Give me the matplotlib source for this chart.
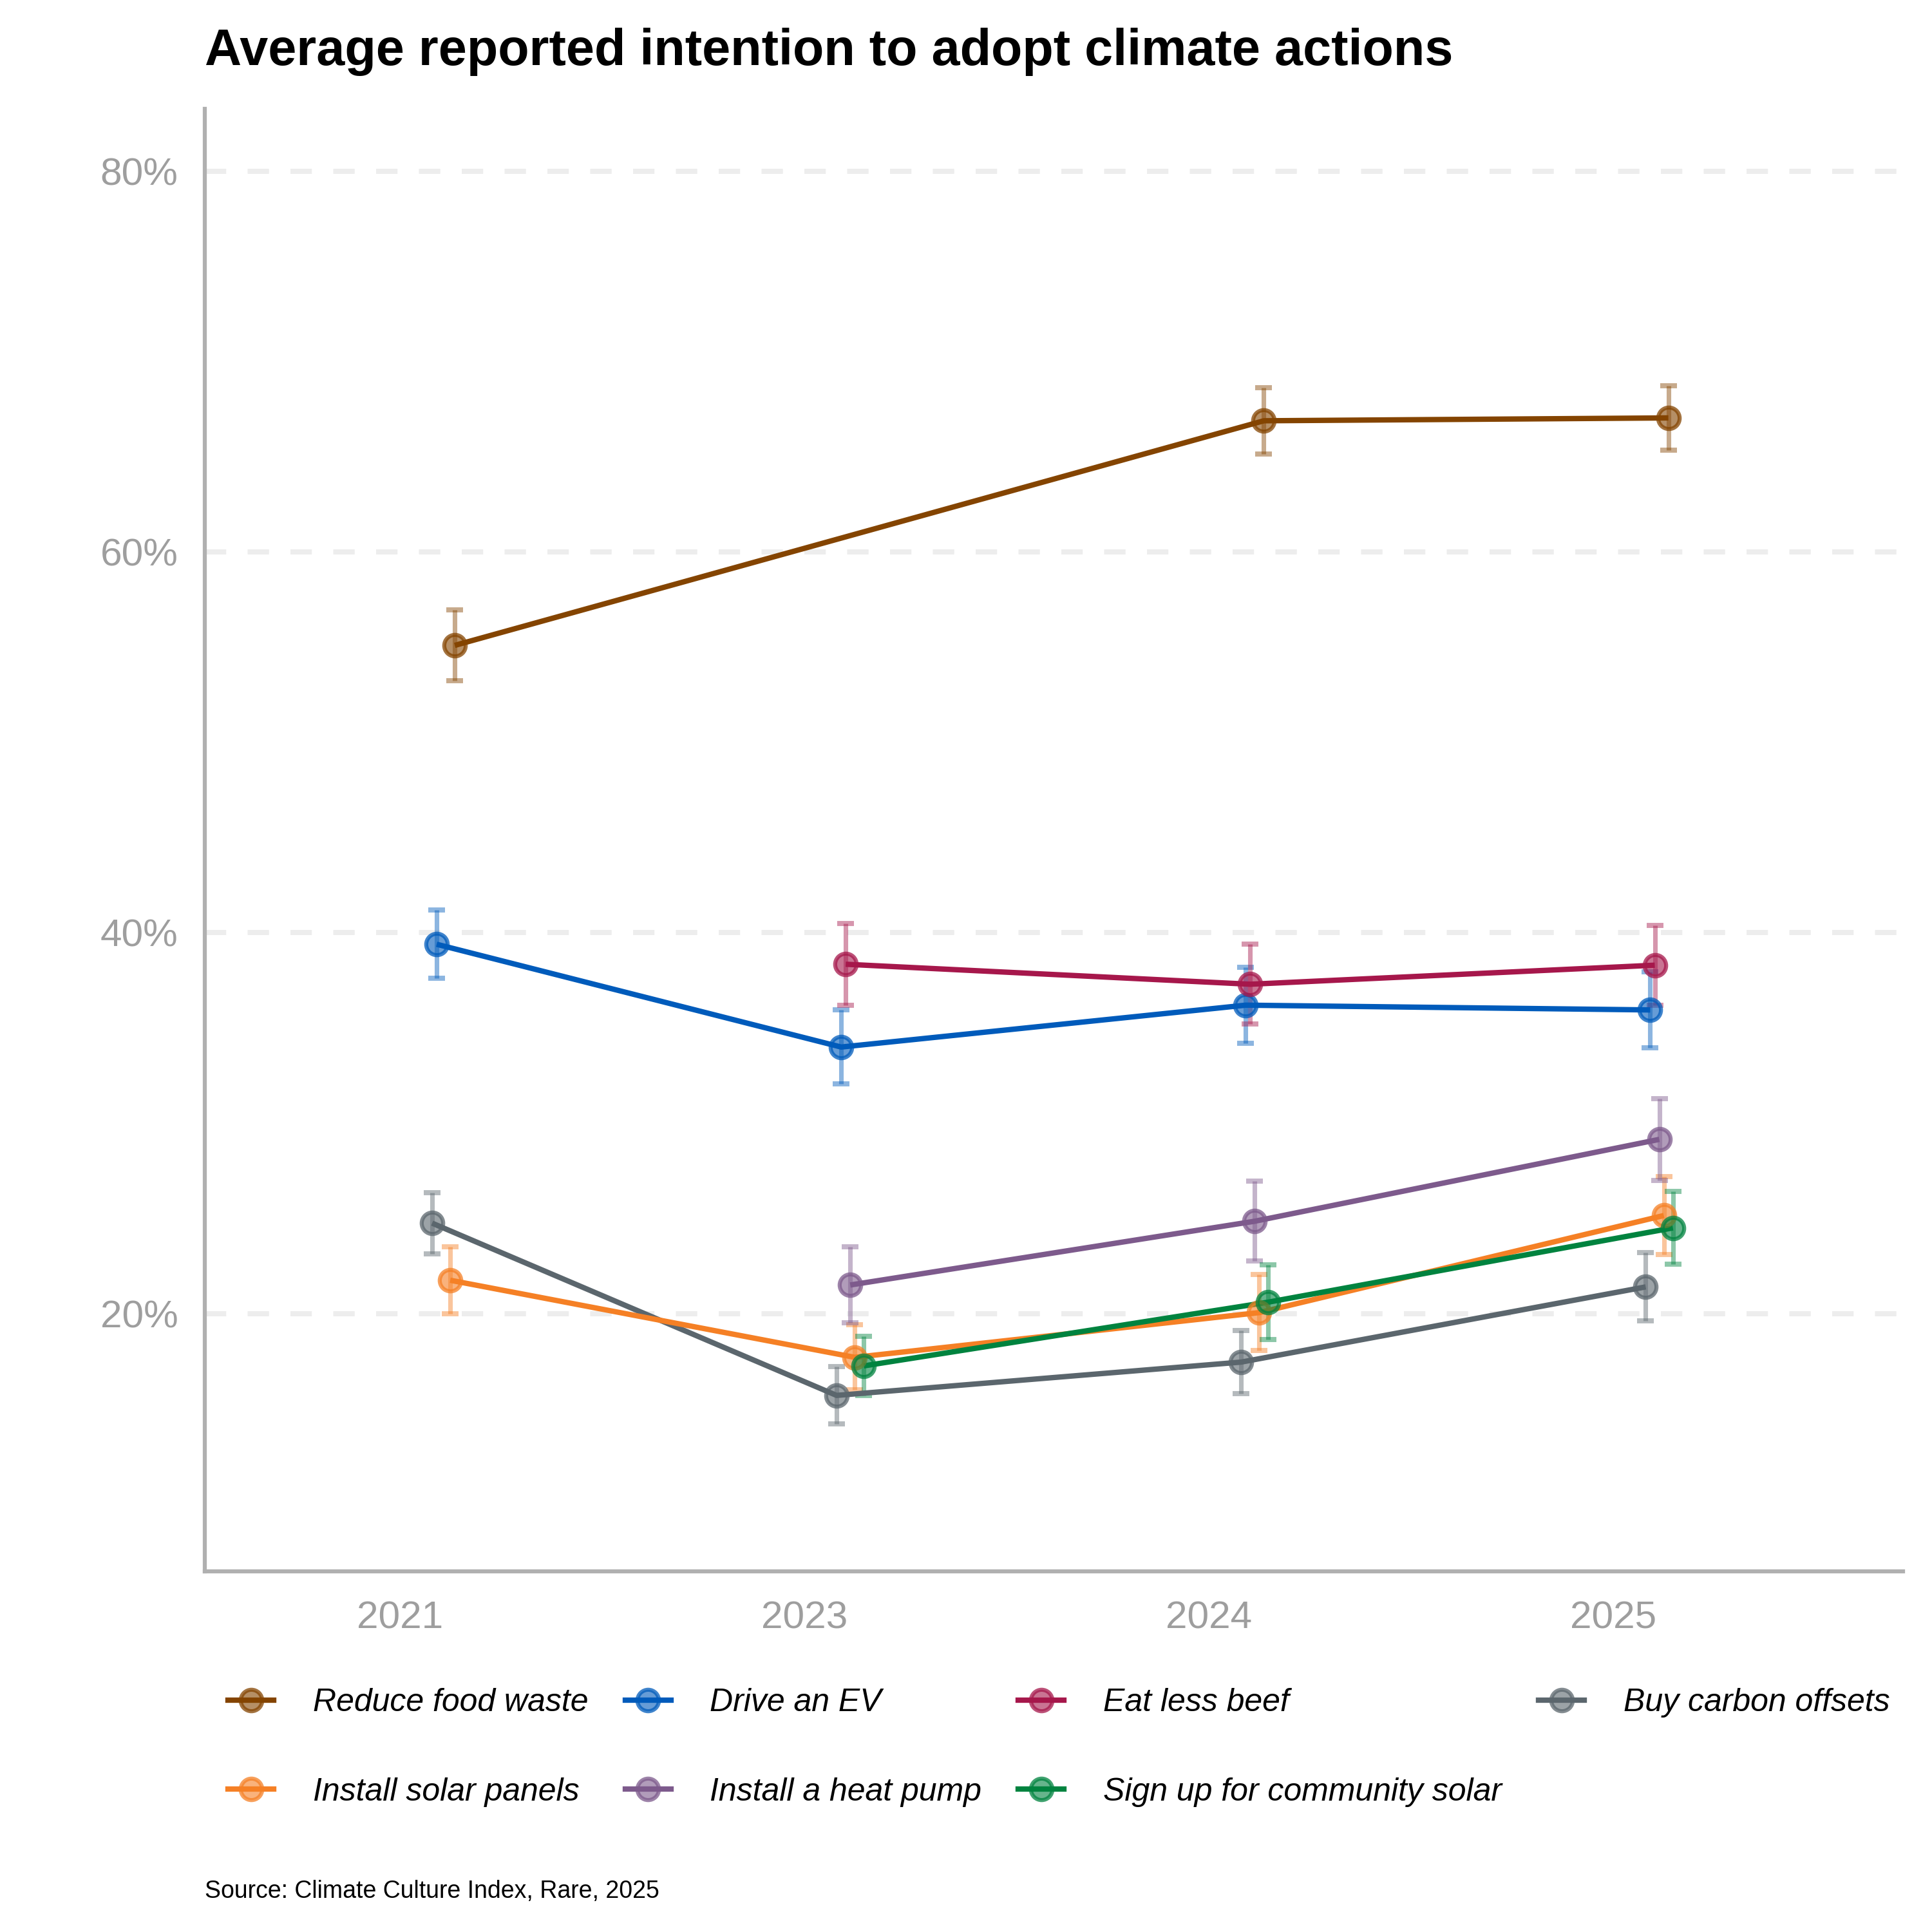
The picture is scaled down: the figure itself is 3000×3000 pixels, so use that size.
import numpy as np
import matplotlib
matplotlib.use("Agg")
import matplotlib.pyplot as plt
from matplotlib.colors import to_rgba
from matplotlib.lines import Line2D

plt.rcParams['font.family'] = ['Liberation Sans', 'DejaVu Sans']

years = ['2021', '2023', '2024', '2025']

# legend order
actions = [
    'Reduce food waste',
    'Drive an EV',
    'Eat less beef',
    'Buy carbon offsets',
    'Install solar panels',
    'Install a heat pump',
    'Sign up for community solar',
]

nan = np.nan
food_waste = [55.1, nan, 66.9, 67.05]
food_waste_err = [1.85, nan, 1.75, 1.7]
drive_ev = [39.4, 34.0, 36.2, 35.95]
drive_ev_err = [1.8, 1.95, 2.0, 2.0]
less_beef = [nan, 38.35, 37.3, 38.3]
less_beef_err = [nan, 2.15, 2.1, 2.1]
carbon_offsets = [24.75, 15.7, 17.45, 21.4]
carbon_offsets_err = [1.6, 1.5, 1.65, 1.8]
solar_panels = [21.75, 17.7, 20.05, 25.15]
solar_panels_err = [1.75, 1.7, 2.0, 2.05]
heat_pump = [nan, 21.5, 24.85, 29.15]
heat_pump_err = [nan, 2.0, 2.1, 2.15]
community_solar = [nan, 17.25, 20.6, 24.5]
community_solar_err = [nan, 1.55, 1.95, 1.9]

values = [food_waste, drive_ev, less_beef, carbon_offsets,
          solar_panels, heat_pump, community_solar]
errors = [food_waste_err, drive_ev_err, less_beef_err, carbon_offsets_err,
          solar_panels_err, heat_pump_err, community_solar_err]

colors = ['#844400', '#005BBB', '#A6174B', '#5B666D',
          '#F58025', '#7D5A8C', '#00833F']


def dodge_offsets(labels, center=0.1135, step=0.0112):
    # points are dodged in alphabetical order of the action name
    order = sorted(labels)
    mid = (len(order) - 1) / 2
    return {lab: center + (order.index(lab) - mid) * step for lab in labels}


def plot_chart(out_png="out.png"):
    fig = plt.figure(figsize=(10, 10), dpi=300)
    ax = fig.add_axes([0.106, 0.1867, 0.985 - 0.106, 0.9438 - 0.1867])

    offs = dodge_offsets(actions)
    xbase = np.arange(len(years))

    for lab, vals, errs, col in zip(actions, values, errors, colors):
        v = np.array(vals, dtype=float)
        e = np.array(errs, dtype=float)
        ok = ~np.isnan(v)
        x = xbase[ok] + offs[lab]
        ax.errorbar(x, v[ok], yerr=e[ok], fmt='none', ecolor=to_rgba(col, 0.45),
                    elinewidth=1.7, capsize=3.2, capthick=1.9, zorder=2)
        ax.plot(x, v[ok], color=col, lw=2.0, zorder=3, solid_capstyle='butt')
        ax.plot(x, v[ok], 'o', ms=8, mfc=to_rgba(col, 0.6),
                mec=to_rgba(col, 0.75), mew=1.5, zorder=4, ls='none')

    ax.set_xlim(-0.482, 3.716)
    ax.set_ylim(6.46, 83.3)
    ax.set_xticks(xbase)
    ax.set_xticklabels(years)
    ax.set_yticks([20, 40, 60, 80])
    ax.set_yticklabels([f"{t}%" for t in [20, 40, 60, 80]])
    ax.tick_params(axis='both', length=0, labelsize=14.5, labelcolor='#9E9E9E')
    ax.tick_params(axis='x', pad=11)
    ax.tick_params(axis='y', pad=10)

    ax.yaxis.grid(True, color='#EDEDED', lw=1.9, linestyle=(0, (4.2, 4.2)))
    ax.xaxis.grid(False)
    ax.set_axisbelow(True)
    for side in ['top', 'right']:
        ax.spines[side].set_visible(False)
    for side in ['left', 'bottom']:
        ax.spines[side].set_color('#B0B0B0')
        ax.spines[side].set_linewidth(1.5)

    fig.text(0.106, 0.9733, "Average reported intention to adopt climate actions",
             fontsize=19, fontweight='bold', ha='left', va='center')
    fig.text(0.106, 0.021, "Source: Climate Culture Index, Rare, 2025",
             fontsize=9, ha='left', va='center')

    # legend filled column-wise, so reorder to read row-wise in 4 columns
    handles = [Line2D([0], [0], color=c, lw=2.0, marker='o', ms=8,
                      mfc=to_rgba(c, 0.6), mec=to_rgba(c, 0.75), mew=1.5)
               for c in colors]
    order = [0, 4, 1, 5, 2, 6, 3]
    fig.legend([handles[i] for i in order], [actions[i] for i in order],
               loc='center left', bbox_to_anchor=(0.118, 0.0955), ncol=4,
               frameon=False, prop={'style': 'italic', 'size': 12},
               handlelength=1.42, handletextpad=1.22, columnspacing=1.14,
               labelspacing=1.85, borderpad=0, borderaxespad=0)

    fig.savefig(out_png, dpi=300)


def main():
    plot_chart("out.png")


if __name__ == "__main__":
    main()
